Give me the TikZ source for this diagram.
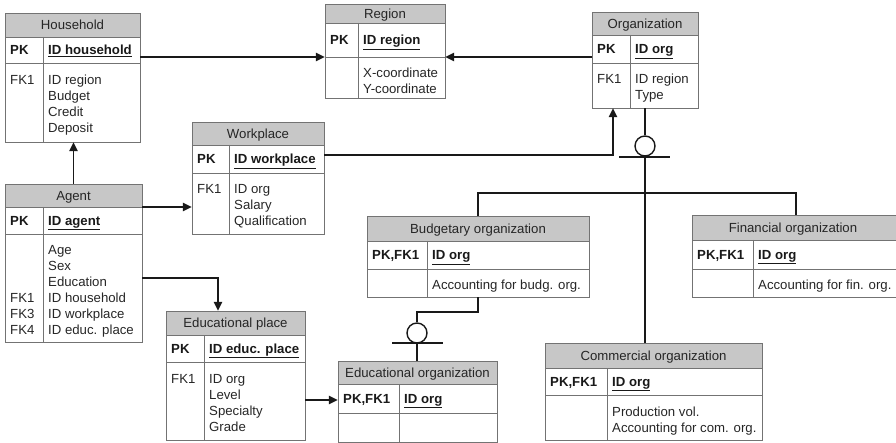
\documentclass[tikz,border=0pt]{standalone}
\usepackage{fontspec}
\setmainfont{Liberation Sans}
\usetikzlibrary{arrows.meta,fit}

\newcommand\tfont{\fontsize{13.2}{16}\selectfont}
% Left-aligned stack of lines whose baseline is that of the first line
\newcommand\attrlines[1]{\vtop{\let\\\cr\halign{##\hfil\cr#1\crcr}}}

% Entity table: name, left x, right x, column divider x,
% top y, header bottom y, key row bottom y, bottom y
\newcommand\entity[8]{%
  \fill[hdrfill] (#2,#5) rectangle (#3,#6);
  \draw[tblline] (#2,#5) rectangle (#3,#8)
    (#2,#6) -- (#3,#6) (#2,#7) -- (#3,#7) (#4,#6) -- (#4,#8);
  \node[inner sep=0pt, fit={(#2,#5) (#3,#8)}] (#1) {};
  \coordinate (#1-t) at ({(#2+#3)/2}, {(#5+#6)/2+4.6});
  \coordinate (#1-k) at ({#2+5}, {(#6+#7)/2+4.6});
  \coordinate (#1-kv) at ({#4+5}, {(#6+#7)/2+4.6});
  \coordinate (#1-b) at ({#2+5}, {#7+21});
  \coordinate (#1-bv) at ({#4+5}, {#7+21});
  \coordinate (#1-h) at (#2,#6);
  \coordinate (#1-s) at (#2,#7);
}

\tikzset{
  hdrfill/.style={fill=black!22},
  tblline/.style={draw=black!55, line width=0.9pt},
  ttl/.style={anchor=base, inner sep=0pt, font=\tfont, text=black!85},
  keylbl/.style={anchor=base west, inner sep=0pt, font=\tfont\bfseries, text=black!90},
  keyval/.style={anchor=base west, inner sep=0pt, font=\tfont\bfseries, text=black!90},
  attr/.style={anchor=base west, inner sep=0pt, font=\tfont, text=black!85},
  conn/.style={draw=black!90, line width=1.4pt},
  fkarrow/.style={conn, -{Triangle[length=9pt, width=8.5pt]}},
  subcirc/.style={circle, draw=black!90, line width=1.4pt, minimum size=20pt, inner sep=0pt, fill=white},
}

\begin{document}
\begin{tikzpicture}[x=1pt, y=-1pt]
\useasboundingbox (0,0) rectangle (896,443);

% ---------- tables ----------
\entity{household}{5}{140}{43}{13}{37}{63}{142}
\node[ttl] at (household-t) {Household};
\node[keylbl] at (household-k) {PK};
\node[keyval] at (household-kv) {\underline{ID household}};
\node[attr, yshift=-1pt] at (household-b) {FK1};
\node[attr, yshift=-1pt] at (household-bv) {\attrlines{ID region\\Budget\\Credit\\Deposit}};

\entity{region}{325}{445}{358}{4}{23}{57}{98}
\node[ttl] at (region-t) {Region};
\node[keylbl] at (region-k) {PK};
\node[keyval] at (region-kv) {\underline{ID region}};
\node[attr] at (region-bv) {\attrlines{X-coordinate\\Y-coordinate}};

\entity{organization}{592}{698}{630}{12}{35}{63}{108}
\node[ttl] at (organization-t) {Organization};
\node[keylbl] at (organization-k) {PK};
\node[keyval] at (organization-kv) {\underline{ID org}};
\node[attr] at (organization-b) {FK1};
\node[attr] at (organization-bv) {\attrlines{ID region\\Type}};

\entity{workplace}{192}{324}{229}{122}{145}{173}{234}
\node[ttl] at (workplace-t) {Workplace};
\node[keylbl] at (workplace-k) {PK};
\node[keyval] at (workplace-kv) {\underline{ID workplace}};
\node[attr] at (workplace-b) {FK1};
\node[attr] at (workplace-bv) {\attrlines{ID org\\Salary\\Qualification}};

\entity{agent}{5}{142}{43}{184}{207}{234}{342}
\node[ttl] at (agent-t) {Agent};
\node[keylbl] at (agent-k) {PK};
\node[keyval] at (agent-kv) {\underline{ID agent}};
\node[attr, yshift=-48pt] at (agent-b) {\attrlines{FK1\\FK3\\FK4}};
\node[attr] at (agent-bv) {\attrlines{Age\\Sex\\Education\\ID household\\ID workplace\\ID educ. place}};

\entity{edplace}{166}{305}{204}{311}{335}{362}{440}
\node[ttl] at (edplace-t) {Educational place};
\node[keylbl] at (edplace-k) {PK};
\node[keyval] at (edplace-kv) {\underline{ID educ. place}};
\node[attr] at (edplace-b) {FK1};
\node[attr] at (edplace-bv) {\attrlines{ID org\\Level\\Specialty\\Grade}};

\entity{budgetary}{367}{589}{427}{216}{241}{269}{297}
\node[ttl] at (budgetary-t) {Budgetary organization};
\node[keylbl] at (budgetary-k) {PK,FK1};
\node[keyval] at (budgetary-kv) {\underline{ID org}};
\node[attr] at (budgetary-bv) {Accounting for budg. org.};

\entity{financial}{692}{898}{753}{215}{240}{269}{297}
\node[ttl, xshift=-2pt] at (financial-t) {Financial organization};
\node[keylbl] at (financial-k) {PK,FK1};
\node[keyval] at (financial-kv) {\underline{ID org}};
\node[attr] at (financial-bv) {Accounting for fin. org.};

\entity{edorg}{338}{497}{399}{361}{384}{413}{442}
\node[ttl] at (edorg-t) {Educational organization};
\node[keylbl] at (edorg-k) {PK,FK1};
\node[keyval] at (edorg-kv) {\underline{ID org}};

\entity{commercial}{545}{762}{607}{343}{368}{395}{440}
\node[ttl] at (commercial-t) {Commercial organization};
\node[keylbl] at (commercial-k) {PK,FK1};
\node[keyval] at (commercial-kv) {\underline{ID org}};
\node[attr] at (commercial-bv) {\attrlines{Production vol.\\Accounting for com. org.}};

% ---------- foreign key links ----------
\draw[fkarrow] (household.east |- region-s) -- (region.west |- region-s);
\draw[fkarrow] (organization.west |- region-s) -- (region.east |- region-s);

\coordinate (wpbend) at (613,155);
\draw[fkarrow] (workplace.east |- wpbend) -- (wpbend) -- (wpbend |- organization.south);

\draw[fkarrow] (agent.north) -- (agent.north |- household.south);
\draw[fkarrow] (agent.east |- agent-h) -- (workplace.west |- agent-h);

\coordinate (epbend) at (218,278);
\draw[fkarrow] (agent.east |- epbend) -- (epbend) -- (epbend |- edplace.north);

\coordinate (eolink) at (320,400);
\draw[fkarrow] (edplace.east |- eolink) -- (edorg.west |- eolink);

% ---------- organization subtypes ----------
\node[subcirc] (orgsub) at (645,146) {};
\coordinate (orgbarL) at (619,157);
\coordinate (orgbarR) at (670,157);
\coordinate (budjoin) at (478,193);
\coordinate (finjoin) at (796,193);
\draw[conn] (orgsub.north |- organization.south) -- (orgsub.north);
\draw[conn] (orgbarL) -- (orgbarR);
\draw[conn] (orgsub.south) -- (orgsub.south |- commercial.north);
\draw[conn] (budjoin |- budgetary.north) -- (budjoin) -- (finjoin) -- (finjoin |- financial.north);

% ---------- budgetary organization subtype ----------
\node[subcirc] (budsub) at (417,333) {};
\coordinate (budbend) at (478,312);
\coordinate (budbarL) at (392,343);
\coordinate (budbarR) at (443,343);
\draw[conn] (budbend |- budgetary.south) -- (budbend) -- (budsub.north |- budbend) -- (budsub.north);
\draw[conn] (budbarL) -- (budbarR);
\draw[conn] (budsub.south) -- (budsub.south |- edorg.north);
\end{tikzpicture}
\end{document}
